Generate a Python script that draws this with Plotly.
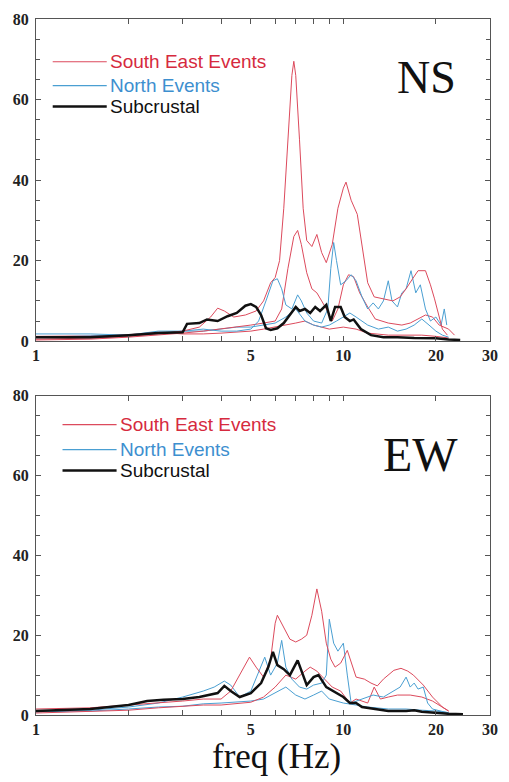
import plotly.graph_objects as go

# ---------------- DATA ----------------
# NS component
ns_red1_f = [1.0,1.3,1.6,2.0,2.5,3.0,3.4,3.7,3.9,4.1,4.4,4.8,5.2,5.5,5.8,6.0,6.2,6.4,6.6,6.8,6.9,7.0,7.2,7.4,7.6,7.9,8.2,8.5,8.8,9.2,9.6,10.0,10.2,10.6,11.1,11.5,12.0,12.6,13.5,14.5,15.3,16.0,16.8,17.5,18.5,19.2,19.8,20.5,21.0,21.8]
ns_red1_v = [0.5,0.6,0.8,1.2,1.8,2.5,3.5,6,8.2,7.5,6,6.5,7.5,10,14.5,15.8,20,33,50,66,69.5,66,50,33,25,23.5,26.5,22,19.5,24,33,38,39.5,35,31.5,24,14.5,11,10.5,10,11,13,15.5,17.5,17.5,14,10.5,6,3,1.5]

ns_red2_f = [1.0,1.5,2.0,2.5,3.0,3.5,4.0,4.5,5.0,5.5,6.0,6.3,6.6,6.9,7.1,7.3,7.6,7.9,8.2,8.5,8.8,9.2,9.6,10.0,10.4,10.8,11.3,12.0,12.7,14.0,15.5,16.5,17.5,18.5,19.5,20.5,22.0,23.0]
ns_red2_v = [0.3,0.5,1.0,1.5,2.0,2.5,3.0,3.5,4.0,4.5,5.0,8,18,26,27.5,24,17,13,12,10,8,5,8,14,16.5,16,12,8.5,5.5,4.5,4,4.5,5.5,6.5,6,4,3,1.5]

ns_red3_f = [1.0,1.5,2.0,2.5,3.0,3.5,4.0,5.0,5.5,6.0,6.5,7.0,7.5,8.0,9.0,10.0,11.0,12.0,14.0,16.0,18.0,20.0,22.0]
ns_red3_v = [1.2,1.3,1.6,2.2,1.8,1.8,2.0,2.5,3,3.5,4,4.5,5,4,3,3.5,3,2,1.5,1.5,1.5,1.2,0.8]

ns_blue1_f = [1.0,1.5,2.0,2.5,3.0,3.5,4.0,4.5,5.0,5.3,5.6,5.9,6.1,6.3,6.5,6.8,7.1,7.3,7.6,8.0,8.5,8.9,9.1,9.3,9.5,9.8,10.2,10.6,11.0,11.5,12.0,12.5,13.0,13.5,14.0,14.4,15.0,15.5,16.0,16.6,17.2,17.8,18.5,19.2,20.0,20.8,21.3,21.7]
ns_blue1_v = [1.8,1.8,1.5,2.5,2.5,3.0,2.5,2.5,3.0,5,10,15,15.5,13,9,8,11.5,10,7,5,4.5,8,18,24.5,20,14,15,16.5,15,11,8,9.5,8,10,15,10,8.5,12,13,17.5,12,14,8,5,6,4,8,4]

ns_blue2_f = [1.0,1.5,2.0,2.5,3.0,3.5,4.0,4.5,5.0,5.5,6.0,6.5,7.0,7.5,8.0,8.5,9.0,9.5,10.0,10.5,11.0,12.0,13.0,14.0,15.0,16.0,17.0,18.0,19.0,20.0,21.0,22.0]
ns_blue2_v = [1.0,1.2,1.5,2.0,2.5,2.5,3.0,3.5,3.5,4,4.5,6,8,5,4,3.5,4,5,6,7,6,4,3,3.5,2.5,3,4,5.5,4,2.5,1.5,1]

ns_black_f = [1.0,1.5,2.0,2.5,3.0,3.1,3.4,3.6,3.9,4.2,4.5,4.8,5.0,5.2,5.4,5.6,5.8,6.1,6.4,6.7,7.0,7.2,7.5,7.8,8.1,8.4,8.8,9.1,9.4,9.8,10.1,10.5,10.8,11.4,12.3,13.5,15,17,20,22,24]
ns_black_v = [1.0,1.0,1.5,2.0,2.2,4.3,4.5,5.4,5.0,6.2,7.0,8.8,9.2,8.5,6.5,3.2,2.8,3.2,4.5,6.5,8.5,7.5,8.0,7.0,8.5,7.5,9.0,5.0,8.5,8.5,6.0,5.0,5.4,3.0,1.5,1.0,1.0,0.8,0.7,0.4,0.3]

# EW component
ew_red1_f = [1.0,1.5,2.0,2.5,3.0,3.5,4.0,4.3,4.6,4.95,5.2,5.5,5.8,6.0,6.1,6.4,6.7,7.0,7.3,7.6,7.9,8.2,8.5,8.8,9.1,9.4,9.8,10.3,10.7,11.0,11.7,12.3,12.9,13.5,14.6,15.4,16.2,16.9,18.2,19.5,21.0,22.0]
ew_red1_v = [1.5,1.8,2.5,3.0,3.5,4.0,4.0,6,10,14.5,12,9.5,14,23,25,22,19,18.3,19,20,25,31.6,26,18,14,12,13,16.2,12,9.5,9,8,7.3,9,11.2,11.7,11,10,7.5,4.5,2,1]

ew_red2_f = [1.0,1.5,2.0,2.5,3.0,3.5,4.0,4.5,5.0,5.5,6.0,6.5,7.0,7.5,7.8,8.2,8.7,9.2,9.8,10.5,11.0,12.0,12.6,13.2,14.0,15.0,16.5,18.0,19.5,21.0,22.0]
ew_red2_v = [0.5,0.8,1.2,1.8,2.2,2.5,2.5,2.8,3.2,4.5,7,10,9,11,12,11,9,7,6,3,4,3,7,4,4.5,5,5,4.5,3.5,2,1]

ew_blue1_f = [1.0,1.5,2.0,2.5,3.0,3.5,3.8,4.1,4.3,4.6,5.0,5.3,5.55,5.8,6.1,6.3,6.5,6.8,7.2,7.6,8.0,8.5,8.8,9.0,9.3,9.6,10.0,10.3,10.6,11.5,12.5,13.5,14.5,15.3,16.0,16.5,17.0,17.5,18.2,18.8,19.5,21.0,22.0]
ew_blue1_v = [1.0,1.2,2.0,3.0,4.5,6,7,8.5,7.5,4.5,6,11,14.5,10,13,18.7,12,9,7,6.5,7.5,8,10,24,18,16,18,10,3,4,5,4.5,6,7,9.5,7,8,6.5,7,3,1.5,1,0.5]

ew_blue2_f = [1.0,1.5,2.0,2.5,3.0,3.5,4.0,4.5,5.0,5.5,6.0,6.5,7.0,7.5,8.0,8.5,9.0,10.0,11.0,12.0,14.0,16.0,18.0,20.0,22.0]
ew_blue2_v = [0.8,1.0,1.5,2.0,2.2,2.8,3.0,3.2,3.5,4,5.5,7,5,4,5,6,4,3,2.5,2,1.5,1.5,1.2,1.0,0.6]

ew_black_f = [1.0,1.5,2.0,2.3,2.6,3.0,3.4,3.7,3.9,4.1,4.3,4.6,5.0,5.4,5.7,5.9,6.1,6.4,6.7,7.1,7.4,7.6,8.0,8.3,8.8,9.3,10.0,10.5,11.0,11.5,12.5,14,16,17,18,20,22,24.5]
ew_black_v = [1.0,1.5,2.5,3.5,3.8,4.0,4.5,5.0,5.5,7.3,6,4.5,5.5,8,12,15.8,12.5,11.5,10,13.7,10,7.5,9.5,10,7,6,4.5,3,3,2,1.5,1.0,1.0,1.2,0.8,0.5,0.3,0.2]

legend_labels = ["South East Events", "North Events", "Subcrustal"]
panel_labels = ["NS", "EW"]
x_tick_vals = [1, 2, 3, 4, 5, 6, 7, 8, 9, 10, 20, 30]
x_tick_text = ["1", "", "", "", "5", "", "", "", "", "10", "20", "30"]
y_tick_vals = [0, 20, 40, 60, 80]

RED = "#dc4a5c"
BLUE = "#4a9fd2"
BLACK = "#111111"
RED_TXT = "#d62a3e"
BLUE_TXT = "#3d8fcf"

fig = go.Figure()

def add(fx, vy, color, width, ax):
    fig.add_trace(go.Scatter(x=fx, y=vy, mode="lines", line=dict(color=color, width=width),
                             xaxis="x" if ax == 1 else "x2", yaxis="y" if ax == 1 else "y2",
                             showlegend=False, hoverinfo="skip"))

add(ns_red3_f, ns_red3_v, RED, 1, 1)
add(ns_blue2_f, ns_blue2_v, BLUE, 1, 1)
add(ns_red2_f, ns_red2_v, RED, 1, 1)
add(ns_blue1_f, ns_blue1_v, BLUE, 1, 1)
add(ns_red1_f, ns_red1_v, RED, 1, 1)
add(ns_black_f, ns_black_v, BLACK, 2.5, 1)

add(ew_blue2_f, ew_blue2_v, BLUE, 1, 2)
add(ew_red2_f, ew_red2_v, RED, 1, 2)
add(ew_blue1_f, ew_blue1_v, BLUE, 1, 2)
add(ew_red1_f, ew_red1_v, RED, 1, 2)
add(ew_black_f, ew_black_v, BLACK, 2.5, 2)

tickfont = dict(family="Liberation Serif", size=16, color="#222", weight="bold")
xa = dict(type="log", range=[0, 1.47712], tickmode="array", tickvals=x_tick_vals, ticktext=x_tick_text,
          ticks="inside", ticklen=5, tickcolor="#555", showline=True, linecolor="#555", linewidth=1,
          mirror="allticks", showgrid=False, zeroline=False, tickfont=tickfont)
ya = dict(range=[0, 80], tickvals=y_tick_vals, ticks="inside", ticklen=5, tickcolor="#555",
          showline=True, linecolor="#555", linewidth=1, mirror="allticks", showgrid=False, zeroline=False,
          tickfont=tickfont, ticklabelstandoff=3,
          minor=dict(dtick=5, tick0=0, ticks="inside", ticklen=4, tickcolor="#555", showgrid=False))

fig.update_layout(
    width=509, height=782, margin=dict(l=36, r=11, t=15, b=67),
    paper_bgcolor="white", plot_bgcolor="white",
    xaxis=dict(xa, domain=[0, 1], anchor="y"),
    yaxis=dict(ya, domain=[0.5371, 1.0], anchor="x"),
    xaxis2=dict(xa, domain=[0, 1], anchor="y2"),
    yaxis2=dict(ya, domain=[0.0, 0.4586], anchor="x2"),
)

# legends (drawn as line samples + text) and panel labels
legend_rows = [
    (legend_labels[0], RED, RED_TXT, 1.2),
    (legend_labels[1], BLUE, BLUE_TXT, 1.2),
    (legend_labels[2], BLACK, BLACK, 2.5),
]
top_y = [0.9386, 0.9043, 0.8743]
bot_y = [0.4171, 0.3814, 0.3514]
for (lab, lc, tc, lw), yt, yb in zip(legend_rows, top_y, bot_y):
    fig.add_shape(type="line", xref="paper", yref="paper", x0=0.0368, x1=0.1558, y0=yt, y1=yt,
                  line=dict(color=lc, width=lw))
    fig.add_shape(type="line", xref="paper", yref="paper", x0=0.0584, x1=0.1775, y0=yb, y1=yb,
                  line=dict(color=lc, width=lw))
    fig.add_annotation(text=lab, xref="paper", yref="paper", x=0.1580, y=yt, xanchor="left",
                       yanchor="middle", showarrow=False,
                       font=dict(family="Liberation Sans", size=19, color=tc))
    fig.add_annotation(text=lab, xref="paper", yref="paper", x=0.1797, y=yb, xanchor="left",
                       yanchor="middle", showarrow=False,
                       font=dict(family="Liberation Sans", size=19, color=tc))

fig.add_annotation(text=panel_labels[0], xref="paper", yref="paper", x=0.860, y=0.9157,
                   xanchor="center", yanchor="middle", showarrow=False,
                   font=dict(family="Liberation Serif", size=46, color="#111"))
fig.add_annotation(text=panel_labels[1], xref="paper", yref="paper", x=0.847, y=0.3740,
                   xanchor="center", yanchor="middle", showarrow=False,
                   font=dict(family="Liberation Serif", size=48, color="#111"))
fig.add_annotation(text="freq (Hz)", xref="paper", yref="paper", x=0.530, y=-0.060,
                   xanchor="center", yanchor="middle", showarrow=False,
                   font=dict(family="Liberation Serif", size=35, color="#111"))

fig.write_html("out.html")
